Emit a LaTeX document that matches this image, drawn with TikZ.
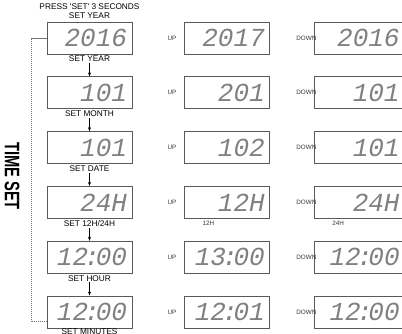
\documentclass[tikz,border=0pt]{standalone}
\usepackage{fontspec}
\setmainfont{Liberation Sans}
\newfontfamily\lcdfont{Liberation Mono}
\usetikzlibrary{arrows.meta,positioning}
\tikzset{
  lcd/.style={draw=black!65, line width=0.8pt, minimum width=85pt, minimum height=32pt,
              inner xsep=5pt, inner ysep=0pt, text width=75pt, align=right, text=black!50,
              font=\lcdfont\itshape\fontsize{26}{26}\selectfont},
  lcdw/.style={lcd, minimum width=90pt, text width=80pt},
  lbl/.style={font=\fontsize{8.3}{8.5}\selectfont, inner sep=1pt},
  key/.style={font=\fontsize{6.3}{7}\selectfont, inner sep=0pt, anchor=west, text=black!80},
  sig/.style={-{Stealth[length=4pt,width=3pt]}, semithick},
  bracket/.style={draw=black!55, dash pattern=on 1.2pt off 0.8pt, line width=0.7pt},
}
\newcommand{\clk}[2]{#1\kern-4pt:\kern-4pt#2}

\begin{document}
\begin{tikzpicture}[x=1pt, y=-1pt]
  \useasboundingbox (0,0) rectangle (402,334);
  % setting column
  \node[lcd] (yr) at (89.5,38) {2016};
  \node[lbl, align=center, above=2pt of yr] (press) {PRESS \textquotesingle SET\textquotesingle{} 3 SECONDS\\SET YEAR};
  \node[lbl, below=0.5pt of yr] (lyr) {SET YEAR};
  \node[lcd, below=22pt of yr] (mo) {101};
  \node[lbl, below=0.5pt of mo] (lmo) {SET MONTH};
  \node[lcd, below=22pt of mo] (dt) {101};
  \node[lbl, below=0.5pt of dt] (ldt) {SET DATE};
  \node[lcd, below=22pt of dt] (fm) {24H};
  \node[lbl, below=0.5pt of fm] (lfm) {SET 12H/24H};
  \node[lcd, below=22pt of fm] (hr) {\clk{12}{00}};
  \node[lbl, below=0.5pt of hr] (lhr) {SET HOUR};
  \node[lcd, below=22pt of hr] (mi) {\clk{12}{00}};
  \node[lbl, inner sep=0pt, below=0.5pt of mi] (lmi) {SET MINUTES};
  \draw[sig] (lyr) -- (mo);
  \draw[sig] (lmo) -- (dt);
  \draw[sig] (ldt) -- (fm);
  \draw[sig] (lfm) -- (hr);
  \draw[sig] (lhr) -- (mi);
  % UP column
  \node[lcd, right=52pt of yr] (yru) {2017};
  \node[lcd, right=52pt of mo] (mou) {201};
  \node[lcd, right=52pt of dt] (dtu) {102};
  \node[lcd, right=52pt of fm] (fmu) {12H};
  \node[lcd, right=52pt of hr] (hru) {\clk{13}{00}};
  \node[lcd, right=52pt of mi] (miu) {\clk{12}{01}};
  \node[key] (k1) at ([xshift=-17pt]yru.west) {UP};
  \node[key] (k2) at ([xshift=-17pt]mou.west) {UP};
  \node[key] (k3) at ([xshift=-17pt]dtu.west) {UP};
  \node[key] (k4) at ([xshift=-17pt]fmu.west) {UP};
  \node[key] (k5) at ([xshift=-17pt]hru.west) {UP};
  \node[key] (k6) at ([xshift=-17pt]miu.west) {UP};
  \node[key, anchor=north west, below right=2pt and 18pt of fmu.south west] (l12) {12H};
  % DOWN column
  \node[lcdw, right=44pt of yru] (yrd) {2016};
  \node[lcdw, right=44pt of mou] (mod) {101};
  \node[lcdw, right=44pt of dtu] (dtd) {101};
  \node[lcdw, right=44pt of fmu] (fmd) {24H};
  \node[lcdw, right=44pt of hru] (hrd) {\clk{12}{00}};
  \node[lcdw, right=44pt of miu] (mid) {\clk{12}{00}};
  \node[key] (d1) at ([xshift=-18pt]yrd.west) {DOWN};
  \node[key] (d2) at ([xshift=-18pt]mod.west) {DOWN};
  \node[key] (d3) at ([xshift=-18pt]dtd.west) {DOWN};
  \node[key] (d4) at ([xshift=-18pt]fmd.west) {DOWN};
  \node[key] (d5) at ([xshift=-18pt]hrd.west) {DOWN};
  \node[key] (d6) at ([xshift=-18pt]mid.west) {DOWN};
  \node[key, anchor=north west, below right=2pt and 18pt of fmd.south west] (l24) {24H};
  % bracket
  \draw[bracket] (yr.west) -- ++(-15,0) |- ([yshift=-9pt]mi.west);
  \node[font=\bfseries\fontsize{21}{21}\selectfont, rotate=-90] (ts) at (12,176) {\scalebox{0.7}[1]{TIME SET}};
\end{tikzpicture}
\end{document}
